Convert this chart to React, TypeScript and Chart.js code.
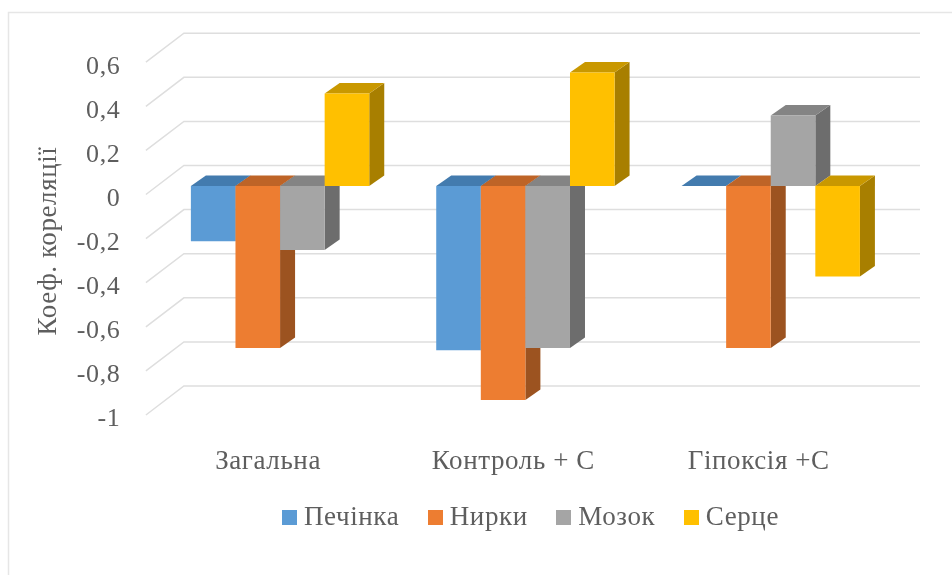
import React, { useEffect, useRef } from "react";
import { Chart, registerables } from "chart.js";

Chart.register(...registerables);

const categories = ["Загальна", "Контроль + С", "Гіпоксія +С"];
const seriesNames = ["Печінка", "Нирки", "Мозок", "Серце"];
const liver = [-0.25, -0.745, 0];
const kidneys = [-0.735, -0.97, -0.735];
const brain = [-0.29, -0.735, 0.32];
const heart = [0.42, 0.515, -0.41];
const yTickLabels = ["-1", "-0,8", "-0,6", "-0,4", "-0,2", "0", "0,2", "0,4", "0,6"];
const axisTitle = "Коеф. кореляції";

const frontColors = ["#5B9BD5", "#ED7D31", "#A5A5A5", "#FFC000"];
const topColors = ["#437BAE", "#BE6427", "#848484", "#C99800"];
const sideColors = ["#3C668D", "#9C5320", "#6D6D6D", "#A87F00"];

const FONT = "'Liberation Serif', serif";
const TICK_SIZE = 26;
const LABEL_SIZE = 27;
const TEXT_COLOR = "#5E5E5E";
const GRID_COLOR = "#DEDEDE";

// Depth of one bar, and of the whole floor relative to the plane of the bars.
const BAR_DX = 15;
const BAR_DY = -10.5;
const WALL_BACK_DX = 26.5;
const WALL_BACK_DY = -20.5;
const WALL_FRONT_DX = -11.5;
const WALL_FRONT_DY = 8.5;
const WALL_RIGHT = 920;

function swatch(color: string) {
  const c = document.createElement("canvas");
  c.width = 15;
  c.height = 15;
  const g = c.getContext("2d")!;
  g.fillStyle = color;
  g.fillRect(0, 0, 15, 15);
  return c;
}

function poly(ctx: CanvasRenderingContext2D, color: string, pts: number[][]) {
  ctx.fillStyle = color;
  ctx.beginPath();
  pts.forEach(([x, y], i) => (i ? ctx.lineTo(x, y) : ctx.moveTo(x, y)));
  ctx.closePath();
  ctx.fill();
}

const wallPlugin = {
  id: "wall",
  beforeUpdate(chart: any) {
    chart.ctx.letterSpacing = "0.6px";
  },
  afterLayout(chart: any) {
    // The legend sits right of centre, under the bars.
    const legend = chart.legend;
    const pad = legend.options.labels.padding;
    const w = legend.width;
    legend.left = 288.5 - pad;
    legend.right = legend.left + w;
    legend.top = 504 - pad;
    legend.bottom = legend.top + legend.height;
  },
  beforeDatasetsDraw(chart: any) {
    const { ctx, scales } = chart;
    const y = scales.y;
    const left = chart.chartArea.left;
    ctx.save();

    // Outer frame of the chart object (top and left edges only).
    ctx.strokeStyle = "#E6E6E6";
    ctx.lineWidth = 1.5;
    ctx.beginPath();
    ctx.moveTo(8.5, 575);
    ctx.lineTo(8.5, 12.5);
    ctx.lineTo(952, 12.5);
    ctx.stroke();

    // Gridlines on the back wall, folded forward along the side wall.
    ctx.strokeStyle = GRID_COLOR;
    ctx.lineWidth = 1.5;
    y.ticks.forEach((t: any) => {
      const py = y.getPixelForValue(t.value);
      ctx.beginPath();
      ctx.moveTo(left + WALL_FRONT_DX, py + WALL_FRONT_DY);
      ctx.lineTo(left + WALL_BACK_DX, py + WALL_BACK_DY);
      ctx.lineTo(WALL_RIGHT, py + WALL_BACK_DY);
      ctx.stroke();
    });

    // Axis title, centred on the projected front of the axis.
    ctx.translate(49, 241);
    ctx.rotate(-Math.PI / 2);
    ctx.font = `${LABEL_SIZE}px ${FONT}`;
    ctx.fillStyle = TEXT_COLOR;
    ctx.textAlign = "center";
    ctx.textBaseline = "middle";
    ctx.fillText(axisTitle, 0, 0);
    ctx.restore();

    // Bars left to right: depth faces first, then the front through the element.
    const zero = y.getPixelForValue(0);
    chart.data.datasets.forEach((_: any, di: number) => {
      chart.getDatasetMeta(di).data.forEach((bar: any) => {
        const half = bar.width / 2;
        const l = bar.x - half;
        const r = bar.x + half;
        const top = Math.min(bar.y, zero);
        const bottom = Math.max(bar.y, zero);
        poly(ctx, sideColors[di], [
          [r, top],
          [r + BAR_DX, top + BAR_DY],
          [r + BAR_DX, bottom + BAR_DY],
          [r, bottom],
        ]);
        poly(ctx, topColors[di], [
          [l, top],
          [l + BAR_DX, top + BAR_DY],
          [r + BAR_DX, top + BAR_DY],
          [r, top],
        ]);
        bar.draw(ctx);
      });
    });
  },
  beforeDatasetDraw() {
    return false;
  },
};

export default function App() {
  const ref = useRef<HTMLCanvasElement>(null);

  useEffect(() => {
    const values = [liver, kidneys, brain, heart];
    const chart = new Chart(ref.current!, {
      type: "bar",
      plugins: [wallPlugin],
      data: {
        labels: categories,
        datasets: seriesNames.map((label, i) => ({
          label,
          data: values[i],
          backgroundColor: frontColors[i],
          borderWidth: 0,
          barPercentage: 1,
          categoryPercentage: 0.727,
        })),
      },
      options: {
        animation: false,
        responsive: false,
        events: [],
        layout: { padding: { top: 53.7, right: 58.6, left: 0, bottom: 0 } },
        scales: {
          x: {
            grid: { display: false, drawTicks: false },
            border: { display: false },
            afterFit(s: any) {
              s.height = 168.5 - (s.chart.legend?.height ?? 0);
            },
            ticks: {
              color: TEXT_COLOR,
              font: { family: FONT, size: LABEL_SIZE },
              padding: 39,
              labelOffset: -12,
              maxRotation: 0,
              autoSkip: false,
            },
          },
          y: {
            min: -1,
            max: 0.6,
            grid: { display: false, drawTicks: false },
            border: { display: false },
            afterFit(s: any) {
              s.width = 157.4;
            },
            ticks: {
              stepSize: 0.2,
              color: TEXT_COLOR,
              font: { family: FONT, size: TICK_SIZE },
              padding: 37,
              labelOffset: 13,
              autoSkip: false,
              callback: (_v: any, i: number) => yTickLabels[i],
            },
          },
        },
        plugins: {
          tooltip: { enabled: false },
          title: { display: false },
          legend: {
            position: "bottom",
            align: "start",
            labels: {
              color: TEXT_COLOR,
              font: { family: FONT, size: LABEL_SIZE },
              usePointStyle: true,
              pointStyleWidth: 2,
              padding: 35,
              generateLabels: () =>
                seriesNames.map((text, i) => ({
                  text,
                  fontColor: TEXT_COLOR,
                  pointStyle: swatch(frontColors[i]),
                  datasetIndex: i,
                  lineWidth: 0,
                })),
            },
          },
        },
      },
    } as any);
    return () => chart.destroy();
  }, []);

  return (
    <canvas
      ref={ref}
      width={952}
      height={575}
      style={{ position: "absolute", left: 0, top: 0, display: "block" }}
    />
  );
}
